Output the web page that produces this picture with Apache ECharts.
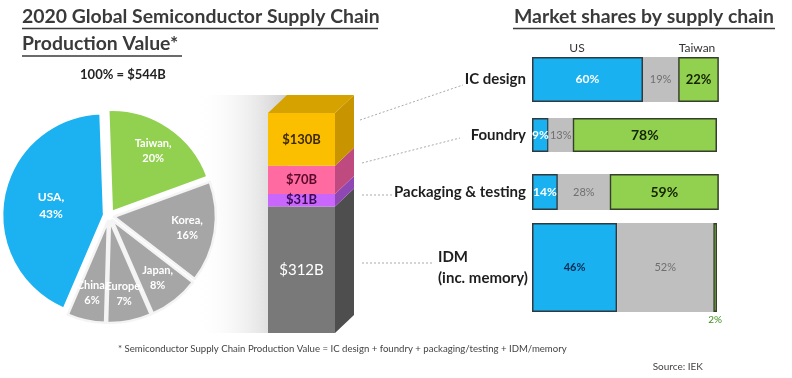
<!DOCTYPE html>
<html>
<head>
<meta charset="utf-8">
<script src="https://cdn.jsdelivr.net/npm/echarts/dist/echarts.min.js"></script>
<style>
  html, body { margin: 0; padding: 0; background: #fff; }
  #chart { width: 792px; height: 378px; }
</style>
</head>
<body>
<div id="chart"></div>
<script>
// pie: production value by region (clockwise from 12 o'clock)
const regions = ["Taiwan", "Korea", "Japan", "Europe", "China", "USA"];
const regionShares = [20, 16, 8, 7, 6, 43];

// stacked column, bottom to top
const chainSegments = ["IDM", "Packaging & testing", "Foundry", "IC design"];
const chainValues = [312, 31, 70, 130];

// market shares by supply chain step
const steps = ["IC design", "Foundry", "Packaging & testing", "IDM\n(inc. memory)"];
const usShare = [60, 9, 14, 46];
const otherShare = [19, 13, 28, 52];
const taiwanShare = [22, 78, 59, 2];

const FONT = "Lato, 'Open Sans', sans-serif";
const regionColor = { USA: "#1cb1f0", Taiwan: "#92d050" };
const chainColor = {
  "IC design": ["#fcbf00", "#c89400"],
  "Foundry": ["#ff6aa0", "#bf4a80"],
  "Packaging & testing": ["#c966fb", "#8f47b3"],
  "IDM": ["#797979", "#4e4e4e"],
};
const chainTextColor = {
  "IC design": "#3d2a00",
  "Foundry": "#5a0a2a",
  "Packaging & testing": "#3a0a55",
  "IDM": "#ffffff",
};

const chart = echarts.init(document.getElementById("chart"));

// 饼图数据
const pieData = regions.map((name, i) => ({
  name,
  value: regionShares[i],
  selected: true,
  itemStyle: {
    color: regionColor[name] || "#a6a6a6",
    borderColor: regionColor[name] ? "#fff" : "#f4f4f4",
  },
}));

// 柱子的累计区间
let acc = 0;
const chainRanges = chainValues.map((v, i) => {
  const r = [0, acc, acc + v, i];
  acc += v;
  return r;
});
const chainTotal = acc;

// 3D side / top faces
const DX = 19, DY = -18;
function renderFaces(params, api) {
  const lo = api.coord([0, api.value(1)]);
  const hi = api.coord([0, api.value(2)]);
  const idx = api.value(3);
  const w = api.size([1, 0])[0];
  const xr = lo[0] + w / 2;
  const xl = lo[0] - w / 2;
  const cols = chainColor[chainSegments[idx]];
  const children = [{
    type: "polygon",
    shape: { points: [[xr, lo[1]], [xr + DX, lo[1] + DY], [xr + DX, hi[1] + DY], [xr, hi[1]]] },
    style: { fill: cols[1] },
  }];
  if (idx === chainSegments.length - 1) {
    children.push({
      type: "polygon",
      shape: { points: [[xl, hi[1]], [xr, hi[1]], [xr + DX, hi[1] + DY], [xl + DX, hi[1] + DY]] },
      style: { fill: "#d6a200" },
    });
  }
  return { type: "group", children };
}

const grids = [
  { left: 268, top: 113, width: 67, height: 220 },
  { left: 532, top: 57, width: 185, height: 45 },
  { left: 532, top: 118, width: 185, height: 34 },
  { left: 532, top: 174, width: 185, height: 36 },
  { left: 532, top: 223, width: 185, height: 89 },
];

const xAxes = [{ gridIndex: 0, type: "category", data: ["2020"], show: false }];
const yAxes = [{ gridIndex: 0, type: "value", min: 0, max: chainTotal, show: false }];
steps.forEach((s, i) => {
  xAxes.push({ gridIndex: i + 1, type: "value", min: 0, max: 100, show: false });
  const isIdm = i === steps.length - 1;
  yAxes.push({
    gridIndex: i + 1,
    type: "category",
    data: [s],
    axisLine: { show: false },
    axisTick: { show: false },
    axisLabel: {
      color: "#1e1e1e",
      fontFamily: FONT,
      fontWeight: "bold",
      fontSize: 15,
      align: isIdm ? "left" : "right",
      margin: isIdm ? 94 : 6,
      lineHeight: 21,
    },
  });
});

const series = [];

const pieCenter = [109, 216];
const pieRadius = 102;

// 饼图
series.push({
  type: "pie",
  center: pieCenter,
  radius: pieRadius,
  startAngle: 92,
  selectedMode: "multiple",
  selectedOffset: 5,
  avoidLabelOverlap: false,
  silent: true,
  itemStyle: { borderWidth: 2.5 },
  label: {
    position: "inner",
    color: "#fff",
    fontFamily: FONT,
    fontWeight: "bold",
    fontSize: 12,
    lineHeight: 17,
    formatter: "{b},\n{c}%",
  },
  labelLine: { show: false },
  labelLayout: { hideOverlap: false },
  data: pieData.map((d) => ({ ...d, label: { show: d.name === "USA" } })),
  z: 3,
});
// labels for the smaller slices, pushed outward
series.push({
  type: "pie",
  center: pieCenter,
  radius: [40, pieRadius],
  startAngle: 92,
  selectedMode: "multiple",
  selectedOffset: 5,
  avoidLabelOverlap: false,
  silent: true,
  itemStyle: { color: "rgba(0,0,0,0)" },
  label: {
    position: "inner",
    color: "#fff",
    fontFamily: FONT,
    fontWeight: "bold",
    fontSize: 11,
    lineHeight: 15,
    formatter: "{b},\n{c}%",
  },
  labelLine: { show: false },
  labelLayout: { hideOverlap: false },
  data: pieData.map((d) => ({
    name: d.name,
    value: d.value,
    selected: true,
    itemStyle: { color: "rgba(0,0,0,0)", borderWidth: 0 },
    label: { show: d.name !== "USA" },
  })),
  z: 4,
});

// 堆叠柱
chainSegments.forEach((seg, i) => {
  series.push({
    type: "bar",
    name: seg,
    xAxisIndex: 0,
    yAxisIndex: 0,
    stack: "chain",
    barWidth: "100%",
    silent: true,
    itemStyle: { color: chainColor[seg][0] },
    label: {
      show: true,
      position: "inside",
      formatter: "${c}B",
      color: chainTextColor[seg],
      fontFamily: FONT,
      fontWeight: seg === "IDM" ? "normal" : "bold",
      fontSize: seg === "IDM" ? 15 : 13,
    },
    data: [chainValues[i]],
    z: 3,
  });
});
series.push({
  type: "custom",
  xAxisIndex: 0,
  yAxisIndex: 0,
  renderItem: renderFaces,
  encode: { x: 0, y: [1, 2] },
  data: chainRanges,
  silent: true,
  z: 2,
});

// 市场份额条
const shareSets = [
  { name: "US", vals: usShare, color: "#1ab1f0", border: "#2f3a40", text: "#fff", weight: "bold", size: 12 },
  { name: "Other", vals: otherShare, color: "#bfbfbf", border: "#bfbfbf", text: "#6f6f6f", weight: "normal", size: 11 },
  { name: "Taiwan", vals: taiwanShare, color: "#92d050", border: "#34402a", text: "#142400", weight: "bold", size: 13 },
];
steps.forEach((s, i) => {
  const isIdm = i === steps.length - 1;
  shareSets.forEach((set) => {
    const item = { value: set.vals[i] };
    if (isIdm && set.name === "US") item.label = { color: "#0d2a55", fontSize: 11 };
    if (isIdm && set.name === "Taiwan") {
      item.label = { position: "bottom", distance: 3, color: "#3f8f1f", fontWeight: "normal", fontSize: 10 };
    }
    if (set.name === "Taiwan" && i > 0 && !isIdm) item.label = { fontSize: 14 };
    series.push({
      type: "bar",
      name: set.name,
      xAxisIndex: i + 1,
      yAxisIndex: i + 1,
      stack: "share" + i,
      barWidth: "100%",
      clip: false,
      silent: true,
      itemStyle: { color: set.color, borderColor: set.border, borderWidth: set.name === "Other" ? 0 : 1.5 },
      label: {
        show: true,
        position: "inside",
        formatter: "{c}%",
        color: set.text,
        fontFamily: FONT,
        fontWeight: set.weight,
        fontSize: set.size,
      },
      data: [item],
    });
  });
});

function text(x, y, str, size, opts) {
  return {
    type: "text",
    silent: true,
    z: 10,
    style: Object.assign({
      x, y, text: str,
      font: (opts && opts.bold ? "bold " : "") + size + "px " + FONT,
      fill: (opts && opts.fill) || "#3a3a3a",
      textAlign: (opts && opts.align) || "left",
      textVerticalAlign: "middle",
    }, opts && opts.extra),
  };
}
function line(x1, y1, x2, y2, stroke, width, dash) {
  return {
    type: "line",
    silent: true,
    z: 10,
    shape: { x1, y1, x2, y2 },
    style: { stroke, lineWidth: width, lineDash: dash || null },
  };
}

const graphic = [
  // back wall behind the column
  {
    type: "rect",
    silent: true,
    z: -10,
    shape: { x: 196, y: 95, width: 92, height: 238 },
    style: {
      fill: new echarts.graphic.LinearGradient(0, 0, 1, 0, [
        { offset: 0, color: "rgba(255,255,255,0)" },
        { offset: 1, color: "#cdcdcd" },
      ]),
    },
  },
  text(22, 17, "2020 Global Semiconductor Supply Chain", 19.4, { bold: true }),
  line(22, 28.5, 378, 28.5, "#3a3a3a", 1.5),
  text(22, 44, "Production Value*", 19.4, { bold: true }),
  line(22, 56, 182, 56, "#3a3a3a", 1.5),
  text(123, 75, "100% = $544B", 13, { bold: true, align: "center", fill: "#222" }),
  text(644, 17, "Market shares by supply chain", 19.4, { bold: true, align: "center" }),
  line(513, 28.5, 775, 28.5, "#3a3a3a", 1.5),
  text(577, 48, "US", 12, { align: "center", fill: "#333" }),
  text(697, 48, "Taiwan", 12, { align: "center", fill: "#333" }),
  text(118, 349, "* Semiconductor Supply Chain Production Value = IC design + foundry + packaging/testing + IDM/memory", 9.6, { fill: "#444" }),
  text(703, 367, "Source: IEK", 10, { align: "right", fill: "#444" }),
  line(360, 120, 463, 85, "#aaa", 1, [2, 2]),
  line(362, 163, 460, 138, "#aaa", 1, [2, 2]),
  line(362, 195, 393, 195, "#aaa", 1, [2, 2]),
  line(362, 263, 432, 263, "#aaa", 1, [2, 2]),
];

chart.setOption({
  animation: false,
  backgroundColor: "#fff",
  grid: grids,
  xAxis: xAxes,
  yAxis: yAxes,
  series,
  graphic,
});
</script>
</body>
</html>
